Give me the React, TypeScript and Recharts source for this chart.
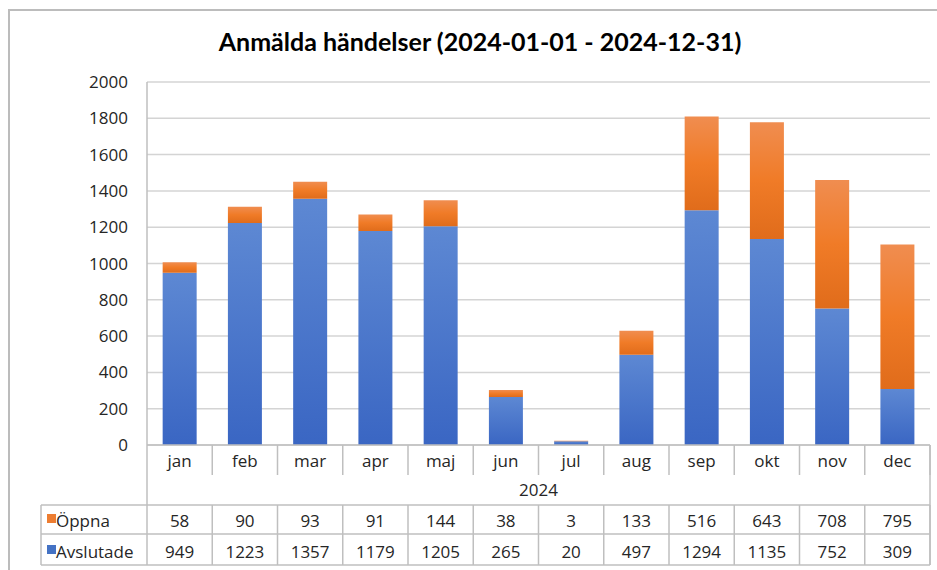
import React from 'react'
import { BarChart, Bar, XAxis, YAxis, CartesianGrid } from 'recharts'

const months = ['jan', 'feb', 'mar', 'apr', 'maj', 'jun', 'jul', 'aug', 'sep', 'okt', 'nov', 'dec']
const oppna = [58, 90, 93, 91, 144, 38, 3, 133, 516, 643, 708, 795]
const avslutade = [949, 1223, 1357, 1179, 1205, 265, 20, 497, 1294, 1135, 752, 309]
const yTicks = [0, 200, 400, 600, 800, 1000, 1200, 1400, 1600, 1800, 2000]
const yearLabel = '2024'
const seriesNames = { oppna: 'Öppna', avslutade: 'Avslutade' }
const title = 'Anmälda händelser (2024-01-01 - 2024-12-31)'

const data = months.map((m, i) => ({ month: m, oppna: oppna[i], avslutade: avslutade[i] }))

// layout
const W = 937
const H = 570
const PLOT_LEFT = 147
const PLOT_RIGHT = 930
const PLOT_TOP = 82
const PLOT_BOTTOM = 445
const BAND = (PLOT_RIGHT - PLOT_LEFT) / months.length
const TABLE_LEFT = 41
const ROW1 = 505
const ROW2 = 534
const ROW3 = 565
const LINE = '#bfbfbf'
const TEXT = '#262626'
const FONT = '"Open Sans", Lato, sans-serif'
const TITLE_FONT = 'Lato, "Open Sans", sans-serif'
const FS = 17

const TableTick = (props: any) => {
  const { x, payload } = props
  const i = payload.index
  const right = x + BAND / 2
  return (
    <g fontFamily={FONT} fontSize={FS} fill={TEXT}>
      <text x={x} y={467} textAnchor="middle" fill={TEXT}>{payload.value}</text>
      <line x1={right} x2={right} y1={PLOT_BOTTOM} y2={475} stroke={LINE} strokeWidth={1.5} />
      <line x1={right} x2={right} y1={ROW1} y2={ROW3} stroke={LINE} strokeWidth={1.5} />
      <text x={x} y={527} textAnchor="middle" fill={TEXT}>{oppna[i]}</text>
      <text x={x} y={558} textAnchor="middle" fill={TEXT}>{avslutade[i]}</text>
      {i === 0 && (
        <g>
          <line x1={PLOT_LEFT} x2={PLOT_LEFT} y1={PLOT_BOTTOM} y2={ROW3} stroke={LINE} strokeWidth={1.5} />
          <line x1={PLOT_RIGHT} x2={PLOT_RIGHT} y1={PLOT_BOTTOM} y2={ROW3} stroke={LINE} strokeWidth={1.5} />
          <line x1={TABLE_LEFT} x2={TABLE_LEFT} y1={ROW1} y2={ROW3} stroke={LINE} strokeWidth={1.5} />
          {[ROW1, ROW2, ROW3].map(y => (
            <line key={y} x1={TABLE_LEFT} x2={PLOT_RIGHT} y1={y} y2={y} stroke={LINE} strokeWidth={1.5} />
          ))}
          <text x={(PLOT_LEFT + PLOT_RIGHT) / 2} y={496} textAnchor="middle" fill={TEXT}>{yearLabel}</text>
          <rect x={47} y={514} width={9} height={9} fill="#ed7d31" />
          <text x={56} y={527} fill={TEXT}>{seriesNames.oppna}</text>
          <rect x={47} y={545} width={9} height={9} fill="#4472c4" />
          <text x={56} y={558} fill={TEXT}>{seriesNames.avslutade}</text>
        </g>
      )}
    </g>
  )
}

export default function App() {
  return (
    <div style={{ position: 'absolute', left: 0, top: 0, width: W, height: H, overflow: 'hidden', background: '#fff' }}>
      <div
        style={{
          position: 'absolute', left: 8, top: 9, width: W + 20, height: H + 20,
          border: '2px solid #bcbcbc', boxSizing: 'border-box',
        }}
      />
      <div
        style={{
          position: 'absolute', left: 0, top: 26, width: 960, textAlign: 'center',
          fontFamily: TITLE_FONT, fontWeight: 700, fontSize: 25, lineHeight: '30px', color: '#000',
        }}
      >
        {title}
      </div>
      <div style={{ position: 'absolute', left: 0, top: 0 }}>
        <BarChart
          width={W}
          height={H}
          data={data}
          barCategoryGap="24%"
          margin={{ top: PLOT_TOP, right: W - PLOT_RIGHT, bottom: 0, left: PLOT_LEFT - 60 }}
        >
          <defs>
            <linearGradient id="gradBlue" x1="0" y1="0" x2="0" y2="1">
              <stop offset="0%" stopColor="#5d88d3" />
              <stop offset="100%" stopColor="#3a66c3" />
            </linearGradient>
            <linearGradient id="gradOrange" x1="0" y1="0" x2="0" y2="1">
              <stop offset="0%" stopColor="#f08d50" />
              <stop offset="50%" stopColor="#f07b27" />
              <stop offset="100%" stopColor="#e06c1b" />
            </linearGradient>
          </defs>
          <CartesianGrid vertical={false} stroke="#d4d4d4" strokeWidth={1.5} />
          <XAxis
            dataKey="month"
            height={H - PLOT_BOTTOM}
            interval={0}
            tickLine={false}
            axisLine={{ stroke: LINE, strokeWidth: 1.5 }}
            tick={<TableTick />}
          />
          <YAxis
            width={60}
            domain={[0, 2000]}
            ticks={yTicks}
            interval={0}
            tickLine={false}
            tickSize={6}
            tickMargin={13}
            axisLine={{ stroke: LINE, strokeWidth: 1.5 }}
            tick={{ fontFamily: FONT, fontSize: FS, fill: TEXT }}
          />
          <Bar dataKey="avslutade" stackId="a" fill="url(#gradBlue)" isAnimationActive={false} />
          <Bar dataKey="oppna" stackId="a" fill="url(#gradOrange)" isAnimationActive={false} />
        </BarChart>
      </div>
    </div>
  )
}
